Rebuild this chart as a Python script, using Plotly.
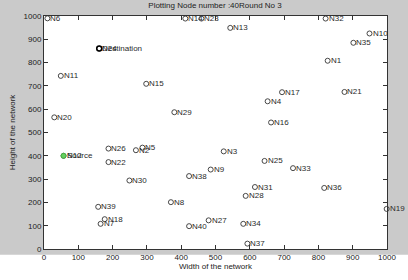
import plotly.graph_objects as go

node_names = ["N1","N2","N3","N4","N5","N6","N7","N8","N9","N10",
              "N11","N12","N13","N14","N15","N16","N17","N18","N19","N20",
              "N21","N22","N23","N24","N25","N26","N27","N28","N29","N30",
              "N31","N32","N33","N34","N35","N36","N37","N38","N39","N40"]
node_x = [827, 268, 524, 652, 287, 10, 165, 370, 486, 949,
          49, 57, 543, 412, 298, 662, 694, 177, 999, 30,
          876, 188, 459, 161, 643, 188, 480, 588, 380, 249,
          615, 821, 726, 581, 902, 817, 593, 423, 158, 423]
node_y = [808, 424, 419, 634, 435, 990, 108, 201, 341, 925,
          743, 400, 949, 989, 709, 543, 673, 128, 172, 565,
          674, 373, 989, 860, 378, 431, 123, 228, 587, 294,
          266, 989, 347, 108, 885, 262, 23, 313, 181, 98]

source_node = "N12"
dest_node = "N24"
title_text = "Plotting Node number :40Round No 3"
x_title = "Width of the network"
y_title = "Height of the network"
tick_vals = [0, 100, 200, 300, 400, 500, 600, 700, 800, 900, 1000]

font_fam = "Liberation Sans, Arial, sans-serif"
si = node_names.index(source_node)
di = node_names.index(dest_node)

fig = go.Figure()
fig.add_trace(go.Scatter(
    x=node_x, y=node_y, mode="markers", cliponaxis=False,
    marker=dict(symbol="circle-open", size=5, color="#333333", line=dict(width=0.9)),
    hoverinfo="skip", showlegend=False))
fig.add_trace(go.Scatter(
    x=[node_x[si]], y=[node_y[si]], mode="markers", cliponaxis=False,
    marker=dict(symbol="circle", size=5, color="#66d060", line=dict(width=1, color="#44b040")),
    hoverinfo="skip", showlegend=False))
fig.add_trace(go.Scatter(
    x=[node_x[di]], y=[node_y[di]], mode="markers", cliponaxis=False,
    marker=dict(symbol="circle-open", size=5, color="#000000", line=dict(width=1.5)),
    hoverinfo="skip", showlegend=False))

annotations = []
label_font = dict(family=font_fam, size=8, color="#2a2a2a")
for name, xv, yv in zip(node_names, node_x, node_y):
    annotations.append(dict(x=xv, y=yv, xref="x", yref="y", text=name, showarrow=False,
                            xanchor="left", yanchor="middle", xshift=1, font=label_font))
annotations.append(dict(x=node_x[si], y=node_y[si], xref="x", yref="y", text="Source",
                        showarrow=False, xanchor="left", yanchor="middle", xshift=1, font=label_font))
annotations.append(dict(x=node_x[di], y=node_y[di], xref="x", yref="y", text="Destination",
                        showarrow=False, xanchor="left", yanchor="middle", xshift=1, font=label_font))

axis_common = dict(
    range=[0, 1000], tickvals=tick_vals, ticks="inside", ticklen=4,
    tickcolor="#333333", showline=True, linecolor="#333333", linewidth=1,
    mirror="ticks", showgrid=False, zeroline=False,
    tickfont=dict(family=font_fam, size=8, color="#222222"),
)
fig.update_xaxes(**axis_common, title=dict(text=x_title, standoff=1,
                 font=dict(family=font_fam, size=8, color="#222222")))
fig.update_yaxes(**axis_common, title=dict(text=y_title, standoff=6,
                 font=dict(family=font_fam, size=8, color="#222222")))

fig.update_layout(
    width=408, height=280,
    margin=dict(l=40, r=18, t=13, b=26),
    paper_bgcolor="#ffffff", plot_bgcolor="#ffffff",
    annotations=annotations,
    title=dict(text=title_text, x=0.527, xanchor="center", y=0.982, yanchor="middle",
               font=dict(family=font_fam, size=8, color="#222222")),
    shapes=[
        dict(type="rect", xref="paper", yref="paper", x0=-0.2, x1=1.1, y0=-0.025, y1=1.1,
             fillcolor="#cacaca", line=dict(width=0), layer="below"),
        dict(type="rect", xref="x", yref="y", x0=0, x1=1000, y0=0, y1=1000,
             fillcolor="#ffffff", line=dict(width=0), layer="below"),
    ],
)

fig.write_html("out.html")
